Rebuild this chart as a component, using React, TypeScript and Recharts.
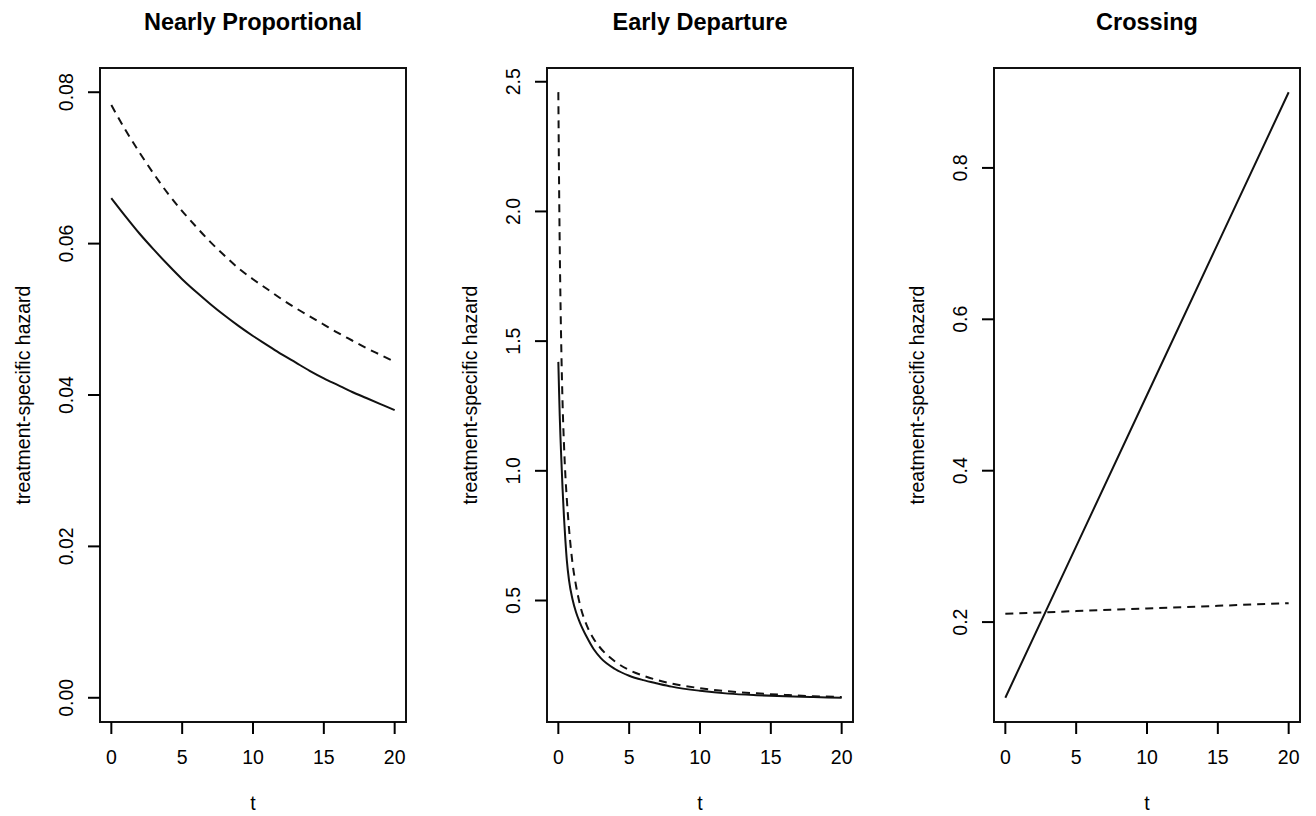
import React from 'react';
import { LineChart, Line, XAxis, YAxis, ReferenceArea } from 'recharts';

const FONT = '"Liberation Sans", Arial, Helvetica, sans-serif';

// x axis shared by all three panels
const X_TICKS = [0, 5, 10, 15, 20];
const X_DOMAIN: [number, number] = [-0.8, 20.8];

// Nearly Proportional
const NP_T = [0, 1, 2, 3, 4, 5, 6, 7, 8, 9, 10, 11, 12, 13, 14, 15, 16, 17, 18, 19, 20];
const NP_SOLID = [
  0.066, 0.0636, 0.0613, 0.0592, 0.0572, 0.0553, 0.0536, 0.052, 0.0505, 0.0491, 0.0478,
  0.0466, 0.0454, 0.0443, 0.0432, 0.0422, 0.0413, 0.0404, 0.0396, 0.0388, 0.038,
];
const NP_DASHED = [
  0.0783, 0.075, 0.072, 0.0692, 0.0666, 0.0643, 0.0622, 0.0602, 0.0584, 0.0567, 0.0553,
  0.054, 0.0527, 0.0515, 0.0504, 0.0493, 0.0482, 0.0472, 0.0462, 0.0453, 0.0444,
];
const NP_Y_TICKS = [0, 0.02, 0.04, 0.06, 0.08];

// Early Departure
const ED_T = [
  0, 0.05, 0.1, 0.15, 0.2, 0.3, 0.4, 0.5, 0.6, 0.75, 1, 1.25, 1.5, 2, 2.5, 3, 4, 5, 6, 7, 8,
  10, 12, 14, 16, 18, 20,
];
const ED_SOLID = [
  1.42, 1.31, 1.21, 1.13, 1.06, 0.93, 0.82, 0.73, 0.655, 0.58, 0.505, 0.455, 0.418, 0.36, 0.312,
  0.278, 0.236, 0.21, 0.193, 0.18, 0.168, 0.152, 0.141, 0.135, 0.131, 0.128, 0.125,
];
const ED_DASHED = [
  2.46, 2.12, 1.86, 1.66, 1.5, 1.26, 1.1, 0.98, 0.89, 0.78, 0.645, 0.557, 0.49, 0.405, 0.352,
  0.315, 0.265, 0.232, 0.21, 0.193, 0.18, 0.162, 0.15, 0.142, 0.136, 0.131, 0.128,
];
const ED_Y_TICKS = [0.5, 1.0, 1.5, 2.0, 2.5];

// Crossing
const CR_T = [0, 5, 10, 15, 20];
const CR_SOLID = [0.1, 0.3, 0.5, 0.7, 0.9];
const CR_DASHED = [0.211, 0.2145, 0.218, 0.2215, 0.225];
const CR_Y_TICKS = [0.2, 0.4, 0.6, 0.8];

const BOX_W = 306;
const BOX_TOP = 68;
const BOX_BOTTOM = 722;
const TICK_FONT = 19.5;

function rows(t: number[], solid: number[], dashed: number[]) {
  return t.map((v, i) => ({ t: v, solid: solid[i], dashed: dashed[i] }));
}

const PANELS = [
  {
    title: 'Nearly Proportional',
    left: 100,
    data: rows(NP_T, NP_SOLID, NP_DASHED),
    yDomain: [-0.0032, 0.0832] as [number, number],
    yTicks: NP_Y_TICKS,
    digits: 2,
    curve: 'monotone' as const,
  },
  {
    title: 'Early Departure',
    left: 547,
    data: rows(ED_T, ED_SOLID, ED_DASHED),
    yDomain: [0.0316, 2.553] as [number, number],
    yTicks: ED_Y_TICKS,
    digits: 1,
    curve: 'monotone' as const,
  },
  {
    title: 'Crossing',
    left: 994,
    data: rows(CR_T, CR_SOLID, CR_DASHED),
    yDomain: [0.068, 0.932] as [number, number],
    yTicks: CR_Y_TICKS,
    digits: 1,
    curve: 'linear' as const,
  },
];

const rotTick = (digits: number) => (props: any) => {
  const { x, y, payload } = props;
  return (
    <text
      x={x}
      y={y}
      transform={`rotate(-90 ${x} ${y})`}
      textAnchor="middle"
      fontSize={TICK_FONT}
      fontFamily={FONT}
      fill="#000"
    >
      {Number(payload.value).toFixed(digits)}
    </text>
  );
};

function Panel({ p }: { p: (typeof PANELS)[number] }) {
  return (
    <div style={{ position: 'absolute', left: p.left - 100, top: 0 }}>
      <LineChart
        width={BOX_W + 120}
        height={816}
        data={p.data}
        margin={{ top: BOX_TOP, right: 20, bottom: 0, left: 0 }}
      >
        <XAxis
          dataKey="t"
          type="number"
          domain={X_DOMAIN}
          ticks={X_TICKS}
          allowDataOverflow
          axisLine={false}
          tickSize={12}
          tickMargin={16}
          tickLine={{ stroke: '#000', strokeWidth: 2 }}
          tick={{ fill: '#000', fontSize: TICK_FONT, fontFamily: FONT }}
          height={816 - BOX_BOTTOM}
        />
        <YAxis
          type="number"
          domain={p.yDomain}
          ticks={p.yTicks}
          allowDataOverflow
          width={100}
          axisLine={false}
          tickSize={12}
          tickMargin={15}
          tickLine={{ stroke: '#000', strokeWidth: 2 }}
          tick={rotTick(p.digits)}
        />
        <ReferenceArea
          x1={X_DOMAIN[0]}
          x2={X_DOMAIN[1]}
          y1={p.yDomain[0]}
          y2={p.yDomain[1]}
          fill="none"
          stroke="#111"
          strokeWidth={2}
          ifOverflow="visible"
        />
        <Line
          type={p.curve}
          dataKey="solid"
          stroke="#111"
          strokeWidth={2}
          dot={false}
          isAnimationActive={false}
        />
        <Line
          type={p.curve}
          dataKey="dashed"
          stroke="#111"
          strokeWidth={2}
          strokeDasharray="8 6"
          dot={false}
          isAnimationActive={false}
        />
      </LineChart>
    </div>
  );
}

export default function App() {
  const midY = (BOX_TOP + BOX_BOTTOM) / 2;
  return (
    <div style={{ position: 'absolute', left: 0, top: 0, width: 1316, height: 816, background: '#fff' }}>
      {PANELS.map((p) => (
        <Panel key={p.title} p={p} />
      ))}
      <svg
        width={1316}
        height={816}
        style={{ position: 'absolute', left: 0, top: 0, pointerEvents: 'none' }}
        fontFamily={FONT}
      >
        {PANELS.map((p) => {
          const cx = p.left + BOX_W / 2;
          const lx = p.left - 70;
          return (
            <g key={p.title}>
              <text x={cx} y={29.5} textAnchor="middle" fontSize={23.5} fontWeight="bold" fill="#000">
                {p.title}
              </text>
              <text x={cx} y={810} textAnchor="middle" fontSize={TICK_FONT} fill="#000">
                t
              </text>
              <text
                x={lx}
                y={midY}
                transform={`rotate(-90 ${lx} ${midY})`}
                textAnchor="middle"
                fontSize={TICK_FONT}
                fill="#000"
              >
                treatment-specific hazard
              </text>
            </g>
          );
        })}
      </svg>
    </div>
  );
}
